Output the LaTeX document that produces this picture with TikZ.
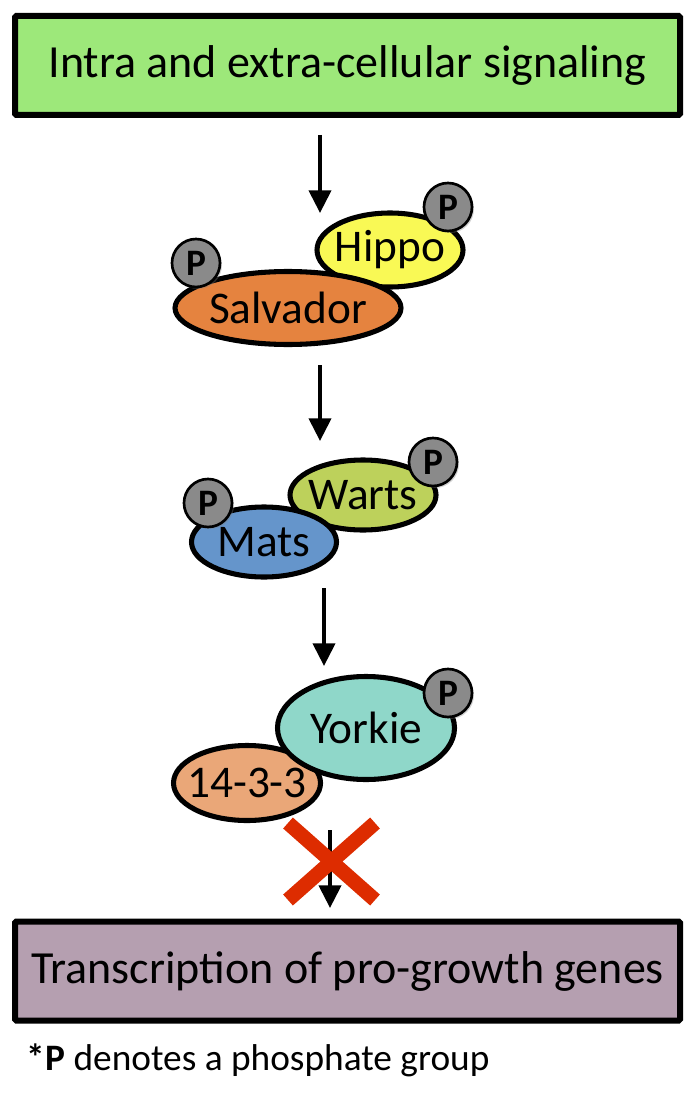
\documentclass[tikz,border=0pt]{standalone}
\usepackage{fontspec}
\setmainfont{Carlito}
\usetikzlibrary{arrows.meta,shapes.geometric,shadows}
\definecolor{sigbg}{HTML}{9DE87A}
\definecolor{genebg}{HTML}{B59FB0}
\definecolor{hippobg}{HTML}{F9F955}
\definecolor{salvbg}{HTML}{E5833F}
\definecolor{wartsbg}{HTML}{BDD15B}
\definecolor{matsbg}{HTML}{6595CB}
\definecolor{yorkbg}{HTML}{8FD7C9}
\definecolor{adaptbg}{HTML}{EAA778}
\definecolor{phosbg}{HTML}{8A8A8A}
\definecolor{blockred}{HTML}{DD2C00}
\tikzset{
  bigbox/.style={draw=black, line width=4.5pt, rounded corners=1pt, minimum width=665*0.75pt, minimum height=99*0.75pt, font=\fontsize{34.5}{40}\selectfont},
  protein/.style={ellipse, draw=black, line width=3.8pt, inner xsep=-22pt, inner ysep=-8pt, font=\fontsize{34}{40}\selectfont},
  phos/.style={circle, draw=black, line width=2pt, fill=phosbg, minimum size=48*0.75pt, inner sep=0pt, font=\bfseries\fontsize{28}{32}\selectfont, drop shadow={opacity=0.35, shadow xshift=1.5pt, shadow yshift=-1.5pt}},
  steparrow/.style={-{Triangle[length=17pt,width=16.5pt]}, line width=3pt, draw=black}
}

\begin{document}
\begin{tikzpicture}[x=0.75pt,y=-0.75pt]
  \useasboundingbox (0,0) rectangle (694,1098);

  % signalling input
  \node[bigbox, fill=sigbg] (signal) at (347.5,65.5) {Intra and extra-cellular signaling};

  % Hippo / Salvador
  \node[protein, fill=hippobg, minimum width=146*0.75pt, minimum height=74*0.75pt] (hippo) at (390,250) {Hippo};
  \node[phos] (hippoP) at (448,207) {P};
  \node[protein, fill=salvbg, minimum width=226*0.75pt, minimum height=73*0.75pt] (salv) at (288,308) {Salvador};
  \node[phos] (salvP) at (196,263) {P};

  % Warts / Mats
  \node[protein, fill=wartsbg, minimum width=146*0.75pt, minimum height=70*0.75pt] (warts) at (363,495) {Warts};
  \node[phos] (wartsP) at (433,462) {P};
  \node[protein, fill=matsbg, minimum width=145*0.75pt, minimum height=70*0.75pt] (mats) at (264,542) {Mats};
  \node[phos] (matsP) at (208,503) {P};

  % 14-3-3 / Yorkie
  \node[protein, fill=adaptbg, minimum width=147*0.75pt, minimum height=75*0.75pt] (adapt) at (247,783) {14-3-3};
  \node[protein, fill=yorkbg, minimum width=177*0.75pt, minimum height=103*0.75pt] (yorkie) at (366,728) {Yorkie};
  \node[phos] (yorkieP) at (448,693) {P};

  % output
  \node[bigbox, fill=genebg] (genes) at (347.5,971) {Transcription of pro-growth genes};
  \node[anchor=west, font=\fontsize{28}{32}\selectfont] (note) at (22,1060) {\textbf{*P} denotes a phosphate group};

  % arrows between steps
  \coordinate (a1s) at (320,135);
  \coordinate (a1e) at (320,213);
  \coordinate (a2s) at (320,365);
  \coordinate (a2e) at (320,441);
  \coordinate (a3s) at (324,588);
  \coordinate (a3e) at (324,666);
  \coordinate (a4s) at (330,830);
  \coordinate (a4e) at (330,908);
  \draw[steparrow] (a1s) -- (a1e);
  \draw[steparrow] (a2s) -- (a2e);
  \draw[steparrow] (a3s) -- (a3e);
  \draw[steparrow] (a4s) -- (a4e);

  % blocked step
  \coordinate (xa) at (288,823);
  \coordinate (xb) at (375,900);
  \coordinate (xc) at (288,900);
  \coordinate (xd) at (375,823);
  \draw[blockred, line width=11pt] (xa) -- (xb);
  \draw[blockred, line width=11pt] (xc) -- (xd);

\end{tikzpicture}
\end{document}
